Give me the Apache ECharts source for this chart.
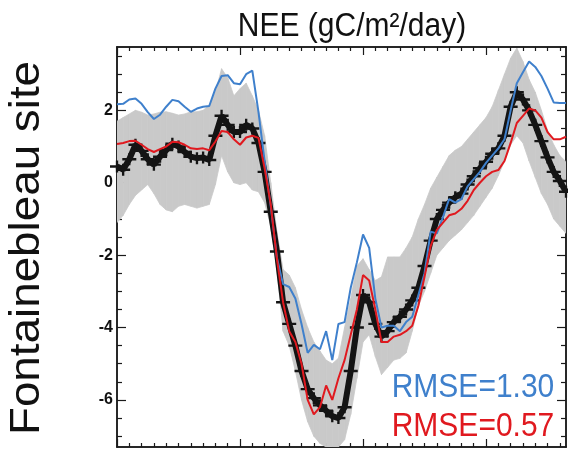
<!DOCTYPE html>
<html>
<head>
<meta charset="utf-8">
<script src="https://cdn.jsdelivr.net/npm/echarts@6/dist/echarts.min.js"></script>
<style>
html,body{margin:0;padding:0;background:#fff;}
#chart{width:568px;height:454px;}
</style>
</head>
<body>
<div id="chart"></div>
<script>
// Day of year grid (every 5 days)
const days = [0,5,10,15,20,25,30,35,40,45,50,55,60,65,70,75,80,85,90,95,100,105,110,115,120,125,130,135,140,145,150,155,160,165,170,175,180,185,190,195,200,205,210,215,220,225,230,235,240,245,250,255,260,265,270,275,280,285,290,295,300,305,310,315,320,325,330,335,340,345,350,355,360,365];

// Observed NEE (crosses)
const obs = [0.45,0.36,0.65,1.05,0.88,0.65,0.5,0.72,0.9,1.08,1.0,0.85,0.72,0.68,0.7,0.63,1.3,1.85,1.6,1.4,1.4,1.6,1.5,1.1,0.3,-0.8,-1.9,-3.3,-3.9,-4.5,-5.2,-5.7,-5.95,-6.15,-6.3,-6.45,-6.5,-6.2,-5.2,-4.0,-3.1,-3.3,-3.9,-4.25,-4.1,-3.85,-3.7,-3.5,-3.25,-2.9,-2.3,-1.6,-1.0,-0.75,-0.55,-0.4,-0.3,-0.05,0.18,0.4,0.58,0.8,0.95,1.3,2.1,2.5,2.3,2.0,1.6,1.15,0.7,0.3,0.05,-0.25];

// Uncertainty band (grey)
const bandUpper = [1.7,1.8,1.9,2.0,1.95,1.87,1.9,1.95,1.96,1.92,1.87,1.9,1.96,1.96,2.0,2.15,2.5,3.15,2.9,2.4,2.6,2.75,2.4,2.0,1.3,0.0,-1.35,-2.4,-2.55,-2.9,-3.5,-4.0,-4.4,-4.65,-4.9,-5.0,-4.85,-4.0,-3.2,-2.3,-2.1,-2.4,-2.7,-2.6,-2.05,-2.05,-2.05,-1.8,-1.5,-1.0,-0.6,-0.15,0.15,0.45,0.75,0.9,1.0,1.2,1.4,1.6,1.8,2.1,2.55,3.0,3.44,3.72,3.35,2.85,2.5,2.0,1.45,1.05,0.75,0.58];
const bandLower = [-1.1,-0.9,-0.6,-0.35,-0.2,-0.05,-0.3,-0.6,-0.75,-0.8,-0.65,-0.6,-0.65,-0.7,-0.65,-0.6,-0.05,0.75,0.3,0.0,-0.05,0.0,-0.2,-0.25,-0.55,-1.2,-2.4,-4.1,-4.5,-5.2,-6.0,-6.6,-7.0,-7.2,-7.3,-7.3,-7.3,-7.1,-6.4,-5.4,-4.4,-4.2,-4.8,-5.3,-5.1,-4.9,-4.85,-4.7,-4.1,-3.4,-3.0,-2.5,-2.0,-1.8,-1.6,-1.45,-1.3,-1.1,-0.9,-0.65,-0.4,-0.15,0.2,0.6,1.05,1.3,1.1,0.6,0.15,-0.3,-0.6,-1.0,-1.2,-1.4];

// Model runs
const modelBlue = [2.17,2.18,2.3,2.33,2.18,1.95,1.76,1.88,2.1,2.29,2.25,2.1,1.96,2.05,2.1,2.12,2.6,2.95,2.97,2.75,2.72,3.0,3.1,1.96,0.6,-0.65,-2.07,-2.8,-2.88,-3.2,-3.9,-4.7,-4.48,-4.6,-4.1,-4.9,-3.9,-3.85,-2.9,-2.2,-1.43,-1.8,-3.2,-4.0,-3.95,-3.95,-4.1,-3.85,-3.7,-3.1,-2.5,-1.35,-1.4,-0.95,-0.45,-0.55,-0.45,-0.1,0.1,0.3,0.55,0.75,0.95,1.2,2.0,2.75,3.05,3.35,3.2,2.95,2.6,2.22,2.2,2.2];
const modelRed = [1.07,1.1,1.15,1.16,1.05,0.93,0.85,0.93,1.0,1.13,1.12,1.05,0.95,0.93,0.95,0.9,1.14,1.43,1.4,1.2,1.05,1.25,1.3,1.24,0.4,-0.6,-2.1,-3.3,-4.1,-4.4,-5.0,-6.0,-6.4,-6.2,-5.6,-6.0,-5.4,-4.9,-4.2,-3.5,-2.55,-2.7,-3.5,-4.4,-4.4,-4.25,-4.2,-4.1,-3.95,-3.4,-2.6,-1.75,-1.3,-1.1,-0.9,-0.85,-0.72,-0.5,-0.2,0.0,0.18,0.3,0.35,0.6,1.1,1.65,1.85,2.05,2.0,1.8,1.4,1.2,1.2,1.27];

// Ticks and labels
const yMajorTicks = [-6,-4,-2,0,2];
const yMinorTicks = [-7,-6.5,-5.5,-5,-4.5,-3.5,-3,-2.5,-1.5,-1,-0.5,0.5,1,1.5,2.5,3,3.5];
const xMajorTicks = [0,100,200,300];
const xMinorTicks = [10,20,30,40,50,60,70,80,90,110,120,130,140,150,160,170,180,190,210,220,230,240,250,260,270,280,290,310,320,330,340,350,360];
const titleText = 'NEE (gC/m\u00B2/day)';
const siteName = 'Fontainebleau site';
const rmseBlue = 'RMSE=1.30';
const rmseRed = 'RMSE=0.57';

const blueColor = '#3f80cc';
const redColor = '#e0191f';
const bandColor = '#c9c9c9';
const AX = '#1a1a1a';
const FONT = '"Liberation Sans", Arial, sans-serif';

const pairs = (vals) => days.map((d, i) => [d, vals[i]]);

function makeX(position, ticks, len) {
  return {
    type: 'value', min: 0, max: 365, position: position,
    axisLine: {show: true, onZero: false, lineStyle: {color: AX, width: 1.5}},
    axisTick: {show: true, inside: true, length: len, customValues: ticks, lineStyle: {color: AX, width: 1.2}},
    axisLabel: {show: false},
    splitLine: {show: false}
  };
}
function makeY(position, ticks, len, labels) {
  return {
    type: 'value', min: -7.3, max: 3.75, position: position,
    axisLine: {show: true, onZero: false, lineStyle: {color: AX, width: 1.5}},
    axisTick: {show: true, inside: true, length: len, customValues: ticks, lineStyle: {color: AX, width: 1.2}},
    axisLabel: labels ? {show: true, customValues: yMajorTicks, margin: 4, color: '#111', fontSize: 16, fontWeight: 'bold', fontFamily: FONT} : {show: false},
    splitLine: {show: false}
  };
}

// band segments: polygon between consecutive days, from library coordinates
function renderBand(params, api) {
  const i = params.dataIndex;
  if (i >= days.length - 1) return null;
  const p = [
    api.coord([days[i], bandUpper[i]]),
    api.coord([days[i + 1], bandUpper[i + 1]]),
    api.coord([days[i + 1], bandLower[i + 1]]),
    api.coord([days[i], bandLower[i]])
  ];
  return {
    type: 'polygon',
    shape: {points: p},
    style: {fill: bandColor, stroke: bandColor, lineWidth: 0.8}
  };
}

const chart = echarts.init(document.getElementById('chart'), null, {renderer: 'canvas'});
const option = {
  animation: false,
  backgroundColor: '#ffffff',
  grid: {left: 117, right: 2, top: 47, bottom: 7, containLabel: false},
  xAxis: [makeX('bottom', xMajorTicks, 8), makeX('bottom', xMinorTicks, 4), makeX('top', xMajorTicks, 8), makeX('top', xMinorTicks, 4)],
  yAxis: [makeY('left', yMajorTicks, 9, true), makeY('left', yMinorTicks, 5, false), makeY('right', yMajorTicks, 9, false), makeY('right', yMinorTicks, 5, false)],
  series: [
    {
      name: 'band', type: 'custom', renderItem: renderBand, clip: true,
      data: days.map((d, i) => [d, bandLower[i], bandUpper[i]]),
      encode: {x: 0, y: [1, 2]}, silent: true, z: 1
    },
    {
      name: 'obsLine', type: 'line', data: pairs(obs), symbol: 'none',
      lineStyle: {color: '#141414', width: 6}, silent: true, z: 2
    },
    {
      name: 'obs', type: 'scatter', data: pairs(obs),
      symbol: 'path://M0,4L12,4L12,6L0,6Z M5,0L7,0L7,10L5,10Z', symbolSize: [14, 12],
      itemStyle: {color: '#141414', opacity: 1}, silent: true, z: 3
    },
    {
      name: 'blue', type: 'line', data: pairs(modelBlue), symbol: 'none',
      lineStyle: {color: blueColor, width: 2}, silent: true, z: 4
    },
    {
      name: 'red', type: 'line', data: pairs(modelRed), symbol: 'none',
      lineStyle: {color: redColor, width: 2}, silent: true, z: 5
    }
  ],
  graphic: [
    {type: 'text', x: 352, y: 27, scaleY: 1.1, style: {text: titleText, x: 0, y: 0, fill: '#111', font: '30px ' + FONT, textAlign: 'center', textVerticalAlign: 'middle'}},
    {type: 'text', x: 27, y: 248, rotation: Math.PI / 2, scaleX: 1.09, style: {text: siteName, x: 0, y: 0, fill: '#111', font: '42px ' + FONT, textAlign: 'center', textVerticalAlign: 'middle'}},
    {type: 'text', x: 473, y: 388, scaleY: 1.12, z: 10, style: {text: rmseBlue, x: 0, y: 0, fill: blueColor, font: '30px ' + FONT, textAlign: 'center', textVerticalAlign: 'middle'}},
    {type: 'text', x: 473, y: 427, scaleY: 1.12, z: 10, style: {text: rmseRed, x: 0, y: 0, fill: redColor, font: '30px ' + FONT, textAlign: 'center', textVerticalAlign: 'middle'}}
  ]
};
chart.setOption(option);
</script>
</body>
</html>
